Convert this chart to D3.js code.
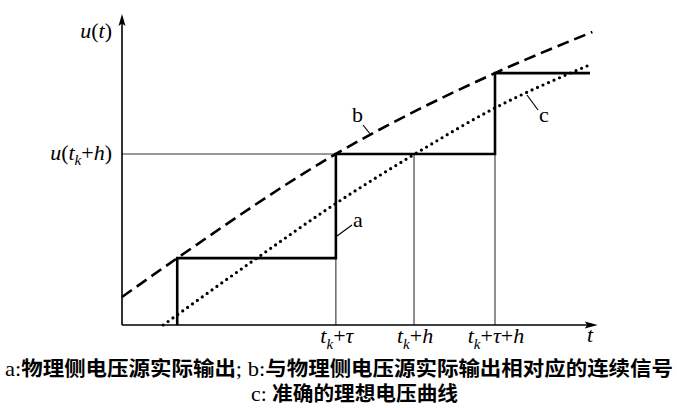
<!DOCTYPE html>
<html><head><meta charset="utf-8">
<script src="https://cdn.jsdelivr.net/npm/d3@7"></script>
<style>
html,body{margin:0;padding:0;background:#fff;}
svg{display:block;}
.serif{font-family:"Liberation Serif","Times New Roman",serif;}
.cjk{font-family:"Noto Sans CJK SC",sans-serif;font-weight:bold;}
</style></head>
<body>
<svg id="c" width="677" height="408"></svg>
<script>
// ---- data (abstract time / voltage units) ----
const stepT = [1.18, 1.18, 4.57, 7.97, 10.0];      // a: physical-side source output (staircase)
const stepU = [0, 2.15, 5.5, 8.1, 8.1];
const dashT = [0, 1.18, 4.57, 7.97, 10.05];       // b: continuous signal
const dashU = [0.9, 2.15, 5.5, 8.1, 9.42];
const dotT  = [0.88, 2.88, 4.55, 6.26, 7.97, 9.94]; // c: ideal voltage curve
const dotU  = [0, 2.15, 3.89, 5.5, 6.98, 8.33];
const tickT = [4.57, 6.24, 7.97];
const tickTop = [5.5, 5.5, 5.5];
const tickLabels = [["τ"], ["h"], ["τ", "h"]];
const refU = 5.5;
const caption1 = ["a:", "物理侧电压源实际输出", ";", " b:", "与物理侧电压源实际输出相对应的连续信号"];
const caption2 = ["c: ", "准确的理想电压曲线"];

const svg = d3.select("#c");
const x = d3.scaleLinear([0, 10], [122, 590]);
const y = d3.scaleLinear([0, 10], [325, 14]);

// thin guide lines
const g = svg.append("g").attr("stroke", "#333").attr("stroke-width", 1.1);
g.append("line").attr("x1", x(0)).attr("x2", x(tickT[0])).attr("y1", y(refU)).attr("y2", y(refU));
tickT.forEach((t, i) => {
  g.append("line").attr("x1", x(t)).attr("x2", x(t)).attr("y1", y(0)).attr("y2", y(tickTop[i]));
});

// axes
const ax = svg.append("g");
ax.append("line").attr("x1", x(0)).attr("x2", x(10.05)).attr("y1", y(0)).attr("y2", y(0))
  .attr("stroke", "#000").attr("stroke-width", 1.6);
ax.append("line").attr("x1", x(0)).attr("x2", x(0)).attr("y1", y(0)).attr("y2", y(9.75))
  .attr("stroke", "#000").attr("stroke-width", 1.6);
ax.append("path").attr("d", `M${x(0)},${y(10)} l-3.5,12 l3.5,-2.5 l3.5,2.5 Z`).attr("fill", "#000");
ax.append("path").attr("d", `M${x(10.08)+4},${y(0)} l-13,-3.5 l2.5,3.5 l-2.5,3.5 Z`).attr("fill", "#000");

// curves
const lineOf = (T, U, curve) => d3.line().x((d, i) => x(T[i])).y((d, i) => y(U[i])).curve(curve)(T);
svg.append("path").attr("d", lineOf(dashT, dashU, d3.curveMonotoneX))
  .attr("fill", "none").attr("stroke", "#000").attr("stroke-width", 2.6).attr("stroke-dasharray", "12,6");
svg.append("path").attr("d", lineOf(dotT, dotU, d3.curveMonotoneX))
  .attr("fill", "none").attr("stroke", "#000").attr("stroke-width", 3.2)
  .attr("stroke-dasharray", "0,6").attr("stroke-linecap", "round");
svg.append("path").attr("d", lineOf(stepT, stepU, d3.curveStepAfter))
  .attr("fill", "none").attr("stroke", "#000").attr("stroke-width", 2.6);

// curve labels and leaders
const lab = svg.append("g").attr("class", "serif").style("font-size", "22px").attr("fill", "#000");
const leaders = [
  {txt: "a", tx: 353, ty: 227, x1: 337, y1: 236, x2: 352, y2: 225},
  {txt: "b", tx: 352, ty: 122, x1: 363, y1: 125, x2: 371, y2: 135},
  {txt: "c", tx: 539, ty: 122, x1: 527, y1: 95, x2: 538, y2: 110}
];
leaders.forEach(l => {
  lab.append("text").attr("x", l.tx).attr("y", l.ty).text(l.txt);
  svg.append("line").attr("x1", l.x1).attr("y1", l.y1).attr("x2", l.x2).attr("y2", l.y2)
    .attr("stroke", "#000").attr("stroke-width", 1.2);
});

// y-axis labels
const yl = svg.append("g").attr("class", "serif").style("font-size", "22px").attr("fill", "#000");
const t1 = yl.append("text").attr("x", 112).attr("y", 38).attr("text-anchor", "end");
t1.append("tspan").style("font-style", "italic").text("u");
t1.append("tspan").text("(");
t1.append("tspan").style("font-style", "italic").text("t");
t1.append("tspan").text(")");
const t2 = yl.append("text").attr("x", 112).attr("y", 160).attr("text-anchor", "end");
t2.append("tspan").style("font-style", "italic").text("u");
t2.append("tspan").text("(");
t2.append("tspan").style("font-style", "italic").text("t");
t2.append("tspan").style("font-style", "italic").style("font-size", "15px").attr("dy", 5).text("k");
t2.append("tspan").attr("dy", -5).text("+");
t2.append("tspan").style("font-style", "italic").text("h");
t2.append("tspan").text(")");

// x tick labels
const xl = svg.append("g").attr("class", "serif").style("font-size", "22px").attr("fill", "#000");
tickT.forEach((t, i) => {
  const tx = xl.append("text").attr("x", x(t) + 1).attr("y", 343).attr("text-anchor", "middle");
  tx.append("tspan").style("font-style", "italic").text("t");
  tx.append("tspan").style("font-style", "italic").style("font-size", "15px").attr("dy", 6).text("k");
  tickLabels[i].forEach((s, j) => {
    const p = tx.append("tspan");
    if (j === 0) p.attr("dy", -6);
    p.text("+");
    tx.append("tspan").style("font-style", "italic").text(s);
  });
});
xl.append("text").attr("x", 587).attr("y", 342).style("font-style", "italic").text("t");

// caption
const cap = svg.append("g").attr("fill", "#000");
const c1 = cap.append("text").attr("x", 5).attr("y", 376).style("font-size", "20px")
  .attr("textLength", 668).attr("lengthAdjust", "spacingAndGlyphs");
caption1.forEach(s => {
  const latin = /^[\sa-z:;]+$/.test(s);
  c1.append("tspan").attr("class", latin ? "serif" : "cjk").style("font-size", latin ? "21px" : "20px").text(s);
});
const c2 = cap.append("text").attr("x", 251).attr("y", 401).style("font-size", "20px")
  .attr("textLength", 207).attr("lengthAdjust", "spacingAndGlyphs");
caption2.forEach(s => {
  const latin = /^[\sa-z:;]+$/.test(s);
  c2.append("tspan").attr("class", latin ? "serif" : "cjk").style("font-size", latin ? "21px" : "20px").text(s);
});
</script>
</body></html>
